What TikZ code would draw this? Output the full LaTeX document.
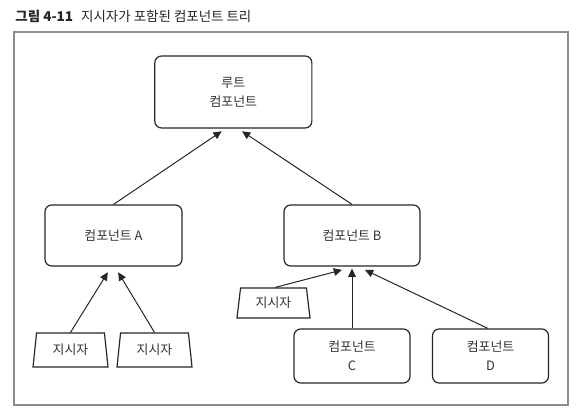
\documentclass[tikz,border=0pt]{standalone}
\usepackage{fontspec}
\setmainfont{Noto Sans CJK KR}
\usetikzlibrary{arrows.meta,shapes.geometric}

\tikzset{
  comp/.style={draw=black!85,line width=1pt,rounded corners=0.2cm,text=black!80,align=center,font=\fontsize{11}{16}\selectfont},
  ind/.style={draw=black!85,line width=1pt,trapezium,trapezium left angle=73,trapezium right angle=73,trapezium stretches body=true,text=black!80,font=\fontsize{11}{13}\selectfont,inner sep=0pt},
  arr/.style={draw=black!85,line width=0.85pt,-{Triangle[length=7pt,width=6.5pt]}}
}

\begin{document}
\begin{tikzpicture}
  \useasboundingbox (0,0) rectangle (17.61,-12.51);
  \fill[white] (0,0) rectangle (17.61,-12.51); %fond

  \node[anchor=west,text=black!85,font=\fontsize{11.5}{13}\selectfont] (title) at (0.34,-0.48) {\textbf{그림 4-11}\hspace{0.6em}지시자가 포함된 컴포넌트 트리}; %titre
  \draw[black!45,line width=0.9pt] (0.42,-0.96) rectangle (17.04,-12.15); %cadre

  \node[comp,minimum width=4.71cm,minimum height=2.16cm] (root) at (7.0,-2.76) {루트\\컴포넌트}; %racine
  \node[comp,minimum width=4.11cm,minimum height=1.83cm] (A) at (3.405,-7.065) {컴포넌트 A};
  \node[comp,minimum width=4.08cm,minimum height=1.83cm] (B) at (10.56,-7.065) {컴포넌트 B};
  \node[comp,minimum width=3.48cm,minimum height=1.62cm] (C) at (10.56,-10.68) {컴포넌트\\C};
  \node[comp,minimum width=3.48cm,minimum height=1.62cm] (D) at (14.715,-10.68) {컴포넌트\\D};

  \node[ind,minimum width=2.25cm,minimum height=1.02cm] (ind1) at (2.115,-10.5) {지시자}; %trapezes
  \node[ind,minimum width=2.25cm,minimum height=1.02cm] (ind2) at (4.635,-10.5) {지시자};
  \node[ind,minimum width=2.19cm,minimum height=0.9cm] (ind3) at (8.205,-9.09) {지시자};

  % fleches
  \draw[arr] (A.north) -- ([xshift=-0.35cm,yshift=-0.08cm]root.south);
  \draw[arr] (B.north) -- ([xshift=0.26cm,yshift=-0.08cm]root.south);
  \draw[arr] (ind1.north) -- ([xshift=-0.17cm,yshift=-0.17cm]A.south);
  \draw[arr] (ind2.north) -- ([xshift=0.14cm,yshift=-0.17cm]A.south);
  \draw[arr] ([xshift=0.05cm]ind3.north) -- ([xshift=-0.3cm,yshift=-0.1cm]B.south);
  \draw[arr] (C.north) -- ([yshift=-0.06cm]B.south);
  \draw[arr] ([xshift=-0.08cm]D.north) -- ([xshift=0.39cm,yshift=-0.1cm]B.south);
\end{tikzpicture}
\end{document}
